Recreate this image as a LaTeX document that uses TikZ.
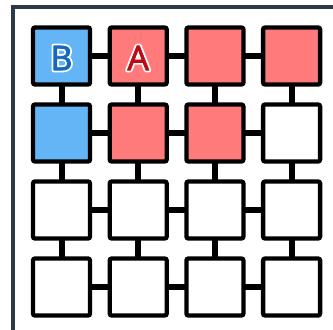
\documentclass[tikz,border=0pt]{standalone}
\usepackage{fontspec}
\setmainfont{Open Sans}
\definecolor{framec}{HTML}{2C3A47}
\definecolor{bluec}{HTML}{64B5F6}
\definecolor{redc}{HTML}{FF7B7B}
\definecolor{dblue}{HTML}{1468BF}
\definecolor{dred}{HTML}{BE0A12}
\newcommand{\haloText}[1]{\special{pdf:literal direct 1 1 1 RG 4.5 w 1 j 2 Tr}#1\special{pdf:literal direct 0 Tr}}
\newcommand{\thickText}[2]{\special{pdf:literal direct #1 RG 0.8 w 1 j 2 Tr}#2\special{pdf:literal direct 0 Tr}}
\begin{document}
\begin{tikzpicture}[x=1pt,y=-1pt,
  cell/.style={draw=black,line width=4.3pt,rounded corners=2pt,minimum size=57pt,inner sep=0pt},
  link/.style={line width=6pt,black},
  letter/.style={font=\fontsize{34}{34}\selectfont,inner sep=0pt}]
\useasboundingbox (0,0) rectangle (333,330);
\fill[white] (0,0) rectangle (333,330);
\draw[framec,line width=4pt] (13,332) -- (13,7) -- (335,7);
\foreach \r in {1,...,4}{
  \foreach \c in {1,...,4}{
    \coordinate (p\r\c) at ({61.5+76.7*(\c-1)},{56+77*(\r-1)});
  }}
\foreach \r in {1,...,4}{
  \draw[link] (p\r1) -- (p\r4);
  \draw[link] (p1\r) -- (p4\r);
}
\foreach \r/\c/\col in {1/1/bluec,1/2/redc,1/3/redc,1/4/redc,2/1/bluec,2/2/redc,2/3/redc,2/4/white,
  3/1/white,3/2/white,3/3/white,3/4/white,4/1/white,4/2/white,4/3/white,4/4/white}{
  \node[cell,fill=\col] (n\r\c) at (p\r\c) {};
}
\coordinate (cb) at ([yshift=-2pt]n11.center);
\coordinate (ca) at ([yshift=-2pt]n12.center);
\node[letter,text=white] (hb) at (cb) {\haloText{B}};
\node[letter,text=white] (ha) at (ca) {\haloText{A}};
\node[letter,text=dblue] (tb) at (cb) {\thickText{0.078 0.408 0.749}{B}};
\node[letter,text=dred] (ta) at (ca) {\thickText{0.745 0.039 0.071}{A}};
\end{tikzpicture}
\end{document}
